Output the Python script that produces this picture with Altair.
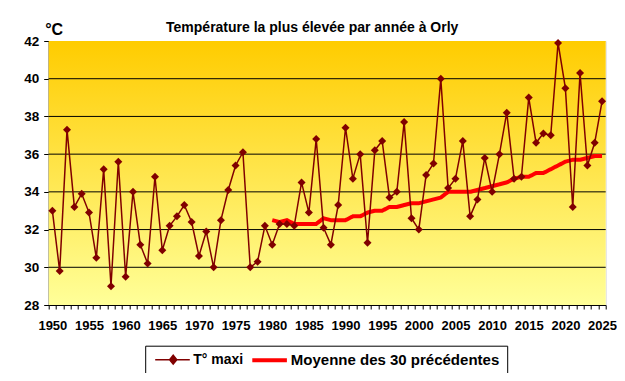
import altair as alt
import pandas as pd

# ---------------- data ----------------
years = list(range(1950, 2026))
tmax = [33.0, 29.8, 37.3, 33.2, 33.9, 32.9, 30.5, 35.2, 29.0, 35.6,
        29.5, 34.0, 31.2, 30.2, 34.8, 30.9, 32.2, 32.7, 33.3, 32.4,
        30.6, 31.9, 30.0, 32.5, 34.1, 35.4, 36.1, 30.0, 30.3, 32.2,
        31.2, 32.3, 32.3, 32.2, 34.5, 32.9, 36.8, 32.1, 31.2, 33.3,
        37.4, 34.7, 36.0, 31.3, 36.2, 36.7, 33.7, 34.0, 37.7, 32.6,
        32.0, 34.9, 35.5, 40.0, 34.2, 34.7, 36.7, 32.7, 33.6, 35.8,
        34.0, 36.0, 38.2, 34.7, 34.8, 39.0, 36.6, 37.1, 37.0, 41.9,
        39.5, 33.2, 40.3, 35.4, 36.6, 38.8]
avg_years = list(range(1980, 2026))
avg = [32.5, 32.4, 32.5, 32.3, 32.3, 32.3, 32.3, 32.6, 32.5, 32.5,
       32.5, 32.7, 32.7, 32.9, 33.0, 33.0, 33.2, 33.2, 33.3, 33.4,
       33.4, 33.5, 33.6, 33.7, 34.0, 34.0, 34.0, 34.0, 34.1, 34.2,
       34.3, 34.4, 34.5, 34.7, 34.8, 34.8, 35.0, 35.0, 35.2, 35.4,
       35.6, 35.7, 35.7, 35.8, 35.9, 35.9]
y_ticks = [28, 30, 32, 34, 36, 38, 40, 42]
grid_values = [30, 32, 34, 36, 38, 40]
series_names = ["T° maxi", "Moyenne des 30 précédentes"]
series_colors = ["#800000", "#FF0000"]
title_text = "Température la plus élevée par année à Orly"
unit_text = "°C"

df_max = pd.DataFrame({"annee": years, "temp": tmax, "serie": series_names[0]})
df_avg = pd.DataFrame({"annee": avg_years, "temp": avg, "serie": series_names[1]})
df_grid = pd.DataFrame({"temp": grid_values})

FONT = "Liberation Sans"
W, H = 557, 264

x_scale = alt.Scale(type="band", domain=years, paddingInner=0, paddingOuter=0)
y_scale = alt.Scale(domain=[28, 42], nice=False, zero=False)

x_axis = alt.Axis(
    title=None, tickBand="extent",
    labelExpr="datum.value % 5 === 0 ? datum.label : ''",
    labelOverlap=False, labelAngle=0, labelFlush=False,
    labelFont=FONT, labelFontSize=13, labelFontWeight="bold", labelColor="black",
    domainColor="black", tickColor="black", tickSize=4, labelPadding=10, grid=False,
)
y_axis = alt.Axis(
    values=y_ticks, title=unit_text, titleAngle=0, titleX=-4, titleY=-7,
    titleAlign="left", titleBaseline="alphabetic", titleFont=FONT,
    titleFontSize=16, titleFontWeight="bold", titleColor="black",
    labelFont=FONT, labelFontSize=13.5, labelFontWeight="bold", labelColor="black",
    labelPadding=5, tickSize=5, tickColor="black", domainColor="black", grid=False,
)

LEG_X, LEG_Y = 96.5, 304.7
SHIFT = 96.6  # horizontal distance between the two legend entries
common_leg = dict(
    orient="none", legendX=LEG_X, legendY=LEG_Y, direction="horizontal", title=None,
    padding=7, symbolSize=64, labelOffset=27,
    labelFont=FONT, labelFontWeight="bold", labelColor="black",
    labelLimit=1000,
)
# framed legend for the running mean, its entry pushed right so the frame
# also encloses the "T° maxi" entry drawn on top of it
legend_avg = alt.Legend(
    strokeColor="black", fillColor="white", zindex=0,
    symbolType="M-1,0H7.65", symbolStrokeColor=series_colors[1],
    symbolStrokeWidth=4, symbolOpacity=1, symbolOffset=SHIFT,
    labelFontSize=15,
    **common_leg,
)
legend_max = alt.Legend(
    strokeColor="transparent", fillColor="transparent", zindex=1,
    symbolType="M-1,0H7.65M3.5,-1.1L4.4,0L3.5,1.1L2.6,0Z",
    symbolStrokeColor=series_colors[0], symbolFillColor=series_colors[0],
    symbolStrokeWidth=1.5, symbolOpacity=1,
    labelFontSize=14,
    **common_leg,
)

X = alt.X("annee:O", scale=x_scale, axis=x_axis, bandPosition=0.5)
Y = alt.Y("temp:Q", scale=y_scale, axis=y_axis)

bg = alt.Chart(alt.Data(values=[{}])).mark_rect(
    fill=alt.Gradient(
        gradient="linear",
        stops=[alt.GradientStop(color="#FFCC00", offset=0),
               alt.GradientStop(color="#FFFF99", offset=1)],
        x1=0, x2=0, y1=0, y2=1,
    )
).encode(x=alt.value(0), x2=alt.value("width"), y=alt.value(0), y2=alt.value("height"))

grid = alt.Chart(df_grid).mark_rule(color="black", strokeWidth=1).encode(y=Y)

line_avg = alt.Chart(df_avg).mark_line(strokeWidth=4, color=series_colors[1]).encode(
    x=X, y=Y,
    strokeDash=alt.StrokeDash("serie:N", scale=alt.Scale(domain=[series_names[1]], range=[[1, 0]]), legend=legend_avg),
)
line_max = alt.Chart(df_max).mark_line(strokeWidth=1.5).encode(
    x=X, y=Y,
    color=alt.Color("serie:N", scale=alt.Scale(domain=[series_names[0]], range=[series_colors[0]]), legend=legend_max),
)
pts = alt.Chart(df_max).mark_point(
    shape="diamond", filled=True, size=64, color=series_colors[0], opacity=1
).encode(x=X, y=Y)

chart = alt.layer(bg, grid, line_avg, line_max, pts).resolve_scale(
    color="independent", strokeDash="independent"
).resolve_legend(color="independent", strokeDash="independent").properties(
    width=W, height=H,
    autosize=alt.AutoSizeParams(type="none"),
    padding={"left": 40.7, "top": 33, "right": 11.3, "bottom": 68},
    title=alt.TitleParams(
        text=title_text, font=FONT, fontSize=14, fontWeight="bold", color="black",
        anchor="middle", dx=-15, dy=20, offset=6,
    ),
).configure_view(stroke="#808080", strokeWidth=1).configure(background="white")

chart.save("out.html", embed_options={"renderer": "svg", "actions": False})
